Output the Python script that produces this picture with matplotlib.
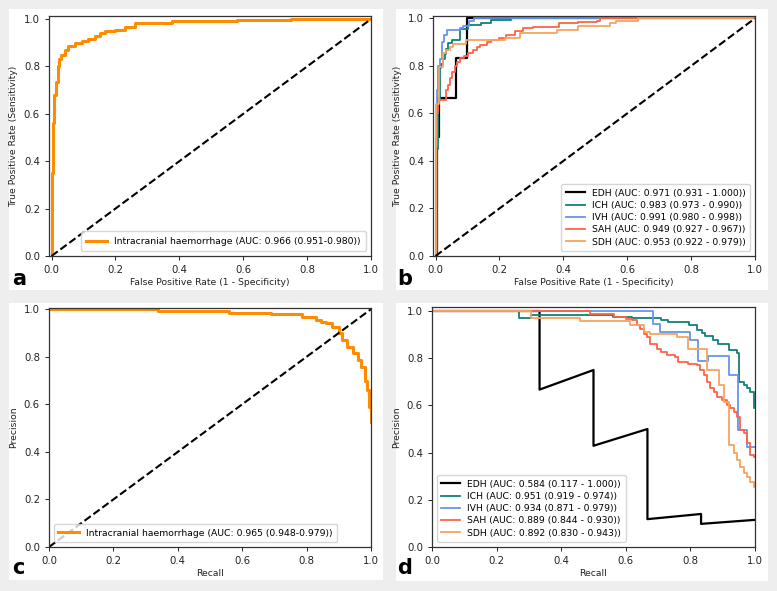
import matplotlib
matplotlib.use("Agg")
import matplotlib.pyplot as plt
from matplotlib.patches import Rectangle

plt.rcParams['font.family'] = ['DejaVu Sans']

# ---------------- Panel a: overall ROC ----------------
fpr_a = [0.0, 0.0, 0.003, 0.008, 0.014, 0.019, 0.024, 0.031, 0.042, 0.05, 0.073, 0.094,
         0.115, 0.136, 0.151, 0.167, 0.198, 0.23, 0.261, 0.355, 0.376, 0.43, 0.58, 0.75, 1.0]
tpr_a = [0.0, 0.35, 0.56, 0.68, 0.735, 0.80, 0.83, 0.85, 0.87, 0.886, 0.897, 0.909,
         0.918, 0.928, 0.942, 0.949, 0.956, 0.968, 0.982, 0.985, 0.99, 0.993, 0.997, 1.0, 1.0]
label_a = "Intracranial haemorrhage (AUC: 0.966 (0.951-0.980))"

# ---------------- Panel b: per-subtype ROC ----------------
subtypes = ["EDH", "ICH", "IVH", "SAH", "SDH"]
colors_sub = ["black", "#0f8077", "#6495ed", "#ff6347", "#f4a460"]
roc_auc_text = ["0.971 (0.931 - 1.000)", "0.983 (0.973 - 0.990)", "0.991 (0.980 - 0.998)",
                "0.949 (0.927 - 0.967)", "0.953 (0.922 - 0.979)"]

fpr_edh = [0.0, 0.005, 0.01, 0.065, 0.097, 1.0]
tpr_edh = [0.0, 0.5, 0.667, 0.833, 1.0, 1.0]
fpr_ich = [0.0, 0.003, 0.006, 0.008, 0.013, 0.018, 0.023, 0.028, 0.033, 0.04, 0.052,
           0.077, 0.10, 0.143, 0.175, 0.237, 1.0]
tpr_ich = [0.0, 0.27, 0.45, 0.66, 0.79, 0.81, 0.83, 0.85, 0.87, 0.895, 0.91,
           0.954, 0.972, 0.982, 0.993, 1.0, 1.0]
fpr_ivh = [0.0, 0.0, 0.002, 0.005, 0.008, 0.013, 0.02, 0.025, 0.035, 0.077, 0.085, 0.105, 0.12, 1.0]
tpr_ivh = [0.0, 0.3, 0.5, 0.7, 0.8, 0.83, 0.9, 0.93, 0.95, 0.96, 0.97, 0.99, 1.0, 1.0]
fpr_sah = [0.0, 0.0, 0.003, 0.007, 0.033, 0.04, 0.044, 0.051, 0.06, 0.068, 0.075, 0.09, 0.10,
           0.117, 0.13, 0.14, 0.16, 0.175, 0.2, 0.22, 0.25, 0.275, 0.305, 0.385, 0.445,
           0.505, 0.515, 1.0]
tpr_sah = [0.0, 0.46, 0.6, 0.656, 0.70, 0.72, 0.75, 0.776, 0.80, 0.818, 0.832, 0.84, 0.853,
           0.867, 0.878, 0.888, 0.90, 0.909, 0.916, 0.93, 0.948, 0.958, 0.965, 0.98, 0.985,
           0.99, 1.0, 1.0]
fpr_sdh = [0.0, 0.0, 0.002, 0.012, 0.023, 0.033, 0.044, 0.054, 0.096, 0.217, 0.265, 0.38,
           0.445, 0.545, 0.565, 0.635, 1.0]
tpr_sdh = [0.0, 0.45, 0.64, 0.797, 0.853, 0.865, 0.878, 0.892, 0.909, 0.916, 0.937, 0.95,
           0.97, 0.98, 0.99, 1.0, 1.0]

# ---------------- Panel c: overall PR ----------------
rec_c = [0.0, 0.338, 0.558, 0.69, 0.787, 0.83, 0.845, 0.86, 0.88, 0.90, 0.91, 0.925, 0.945,
         0.96, 0.97, 0.98, 0.987, 0.995, 0.999, 1.0]
prec_c = [1.0, 0.992, 0.986, 0.979, 0.968, 0.954, 0.948, 0.942, 0.925, 0.898, 0.87, 0.84,
          0.814, 0.786, 0.757, 0.70, 0.66, 0.59, 0.526, 0.526]
label_c = "Intracranial haemorrhage (AUC: 0.965 (0.948-0.979))"

# ---------------- Panel d: per-subtype PR ----------------
pr_auc_text = ["0.584 (0.117 - 1.000)", "0.951 (0.919 - 0.974)", "0.934 (0.871 - 0.979)",
               "0.889 (0.844 - 0.930)", "0.892 (0.830 - 0.943)"]
rec_edh = [0.0, 0.333, 0.333, 0.5, 0.5, 0.667, 0.667, 0.833, 0.833, 1.0]
prec_edh = [1.0, 1.0, 0.667, 0.75, 0.429, 0.5, 0.118, 0.14, 0.098, 0.115]
rec_ich = [0.0, 0.269, 0.308, 0.49, 0.56, 0.62, 0.71, 0.73, 0.795, 0.82, 0.836, 0.845, 0.87,
           0.885, 0.918, 0.944, 0.949, 0.965, 0.975, 0.986, 0.996, 1.0]
prec_ich = [1.0, 0.972, 0.981, 0.985, 0.975, 0.972, 0.96, 0.953, 0.939, 0.918, 0.907, 0.893,
            0.876, 0.862, 0.834, 0.82, 0.70, 0.686, 0.672, 0.657, 0.587, 0.587]
rec_ivh = [0.0, 0.685, 0.705, 0.798, 0.824, 0.855, 0.92, 0.948, 0.974, 1.0]
prec_ivh = [1.0, 0.946, 0.911, 0.876, 0.79, 0.81, 0.728, 0.496, 0.425, 0.425]
rec_sah = [0.0, 0.489, 0.562, 0.60, 0.619, 0.634, 0.645, 0.655, 0.665, 0.675, 0.696, 0.71,
           0.727, 0.753, 0.763, 0.794, 0.82, 0.83, 0.841, 0.851, 0.862, 0.872, 0.882, 0.898,
           0.913, 0.924, 0.934, 0.944, 0.955, 0.965, 0.975, 0.986, 0.996, 1.0]
prec_sah = [1.0, 0.989, 0.975, 0.968, 0.96, 0.939, 0.925, 0.904, 0.89, 0.862, 0.84, 0.826,
            0.812, 0.805, 0.784, 0.777, 0.77, 0.749, 0.728, 0.70, 0.672, 0.657, 0.636, 0.622,
            0.60, 0.587, 0.573, 0.552, 0.496, 0.482, 0.44, 0.39, 0.383, 0.383]
rec_sdh = [0.0, 0.308, 0.458, 0.613, 0.655, 0.676, 0.758, 0.794, 0.851, 0.887, 0.903, 0.918,
           0.934, 0.944, 0.955, 0.965, 0.975, 0.986, 0.996, 1.0]
prec_sdh = [1.0, 0.972, 0.956, 0.939, 0.911, 0.904, 0.89, 0.84, 0.749, 0.686, 0.615, 0.432,
            0.40, 0.369, 0.341, 0.313, 0.298, 0.277, 0.256, 0.256]

W, H = 777, 591
fig = plt.figure(figsize=(W / 100, H / 100), dpi=100)
fig.patch.set_facecolor("#eeeeee")

def px_rect(x0, y0, x1, y1):
    return [x0 / W, 1 - y1 / H, (x1 - x0) / W, (y1 - y0) / H]

# white panels
for (x0, y0, x1, y1) in [(9, 9, 383, 290), (396, 9, 768, 290), (9, 303, 383, 580), (396, 303, 768, 581)]:
    fig.patches.append(Rectangle((x0 / W, 1 - y1 / H), (x1 - x0) / W, (y1 - y0) / H,
                                 transform=fig.transFigure, facecolor="white",
                                 edgecolor="none", zorder=-5))

FS = 6.7
ticks = [0.0, 0.2, 0.4, 0.6, 0.8, 1.0]

def style(ax, xlabel, ylabel):
    ax.set_xticks(ticks)
    ax.set_yticks(ticks)
    ax.tick_params(labelsize=7.3, length=3, width=0.7, colors="#222222")
    ax.set_xlabel(xlabel, fontsize=FS, labelpad=2, color="#222222")
    ax.set_ylabel(ylabel, fontsize=FS, labelpad=4, color="#222222")
    for s in ax.spines.values():
        s.set_linewidth(0.9)
        s.set_color("#333333")

# ---- a ----
ax = fig.add_axes(px_rect(49, 16, 371, 256))
ax.plot(fpr_a, tpr_a, color="#ff8c00", lw=2.2, drawstyle="steps-post", label=label_a)
ax.plot([0, 1], [0, 1], "k--", lw=1.5)
ax.set_xlim(-0.008, 1.0)
ax.set_ylim(0.0, 1.013)
style(ax, "False Positive Rate (1 - Specificity)", "True Positive Rate (Sensitivity)")
ax.legend(loc="lower right", fontsize=FS, borderpad=0.6, handlelength=2.2)

# ---- b ----
ax = fig.add_axes(px_rect(433, 16, 755, 256))
roc_fpr = [fpr_edh, fpr_ich, fpr_ivh, fpr_sah, fpr_sdh]
roc_tpr = [tpr_edh, tpr_ich, tpr_ivh, tpr_sah, tpr_sdh]
for name, c, f, t, txt in zip(subtypes, colors_sub, roc_fpr, roc_tpr, roc_auc_text):
    ax.plot(f, t, color=c, lw=1.3 if name != "EDH" else 1.6, drawstyle="steps-post",
            label=f"{name} (AUC: {txt})")
ax.plot([0, 1], [0, 1], "k--", lw=1.5)
ax.set_xlim(-0.008, 1.0)
ax.set_ylim(0.0, 1.01)
style(ax, "False Positive Rate (1 - Specificity)", "True Positive Rate (Sensitivity)")
ax.legend(loc="lower right", fontsize=FS, borderpad=0.5, labelspacing=0.35)

# ---- c ----
ax = fig.add_axes(px_rect(49, 308, 371, 547))
ax.plot(rec_c, prec_c, color="#ff8c00", lw=2.2, drawstyle="steps-post", label=label_c)
ax.plot([0, 1], [0, 1], "k--", lw=1.5)
ax.set_xlim(0.0, 1.0)
ax.set_ylim(0.0, 1.005)
style(ax, "Recall", "Precision")
ax.legend(loc="lower left", fontsize=FS, borderpad=0.5, handlelength=2.2)

# ---- d ----
ax = fig.add_axes(px_rect(432, 307, 755, 547))
ax.plot(rec_edh, prec_edh, color=colors_sub[0], lw=1.6, label=f"EDH (AUC: {pr_auc_text[0]})")
pr_rec = [rec_ich, rec_ivh, rec_sah, rec_sdh]
pr_prec = [prec_ich, prec_ivh, prec_sah, prec_sdh]
for name, c, r, p, txt in zip(subtypes[1:], colors_sub[1:], pr_rec, pr_prec, pr_auc_text[1:]):
    ax.plot(r, p, color=c, lw=1.3, drawstyle="steps-post", label=f"{name} (AUC: {txt})")
ax.set_xlim(0.0, 1.0)
ax.set_ylim(0.0, 1.017)
style(ax, "Recall", "Precision")
ax.legend(loc="lower left", fontsize=FS, borderpad=0.5, labelspacing=0.35)

# panel letters
for letter, (x, y) in zip("abcd", [(12, 285), (397, 285), (12, 574), (397, 574)]):
    fig.text(x / W, 1 - y / H, letter, fontsize=15, fontweight="bold", ha="left", va="baseline")

fig.savefig("out.png", dpi=100, facecolor=fig.get_facecolor())
